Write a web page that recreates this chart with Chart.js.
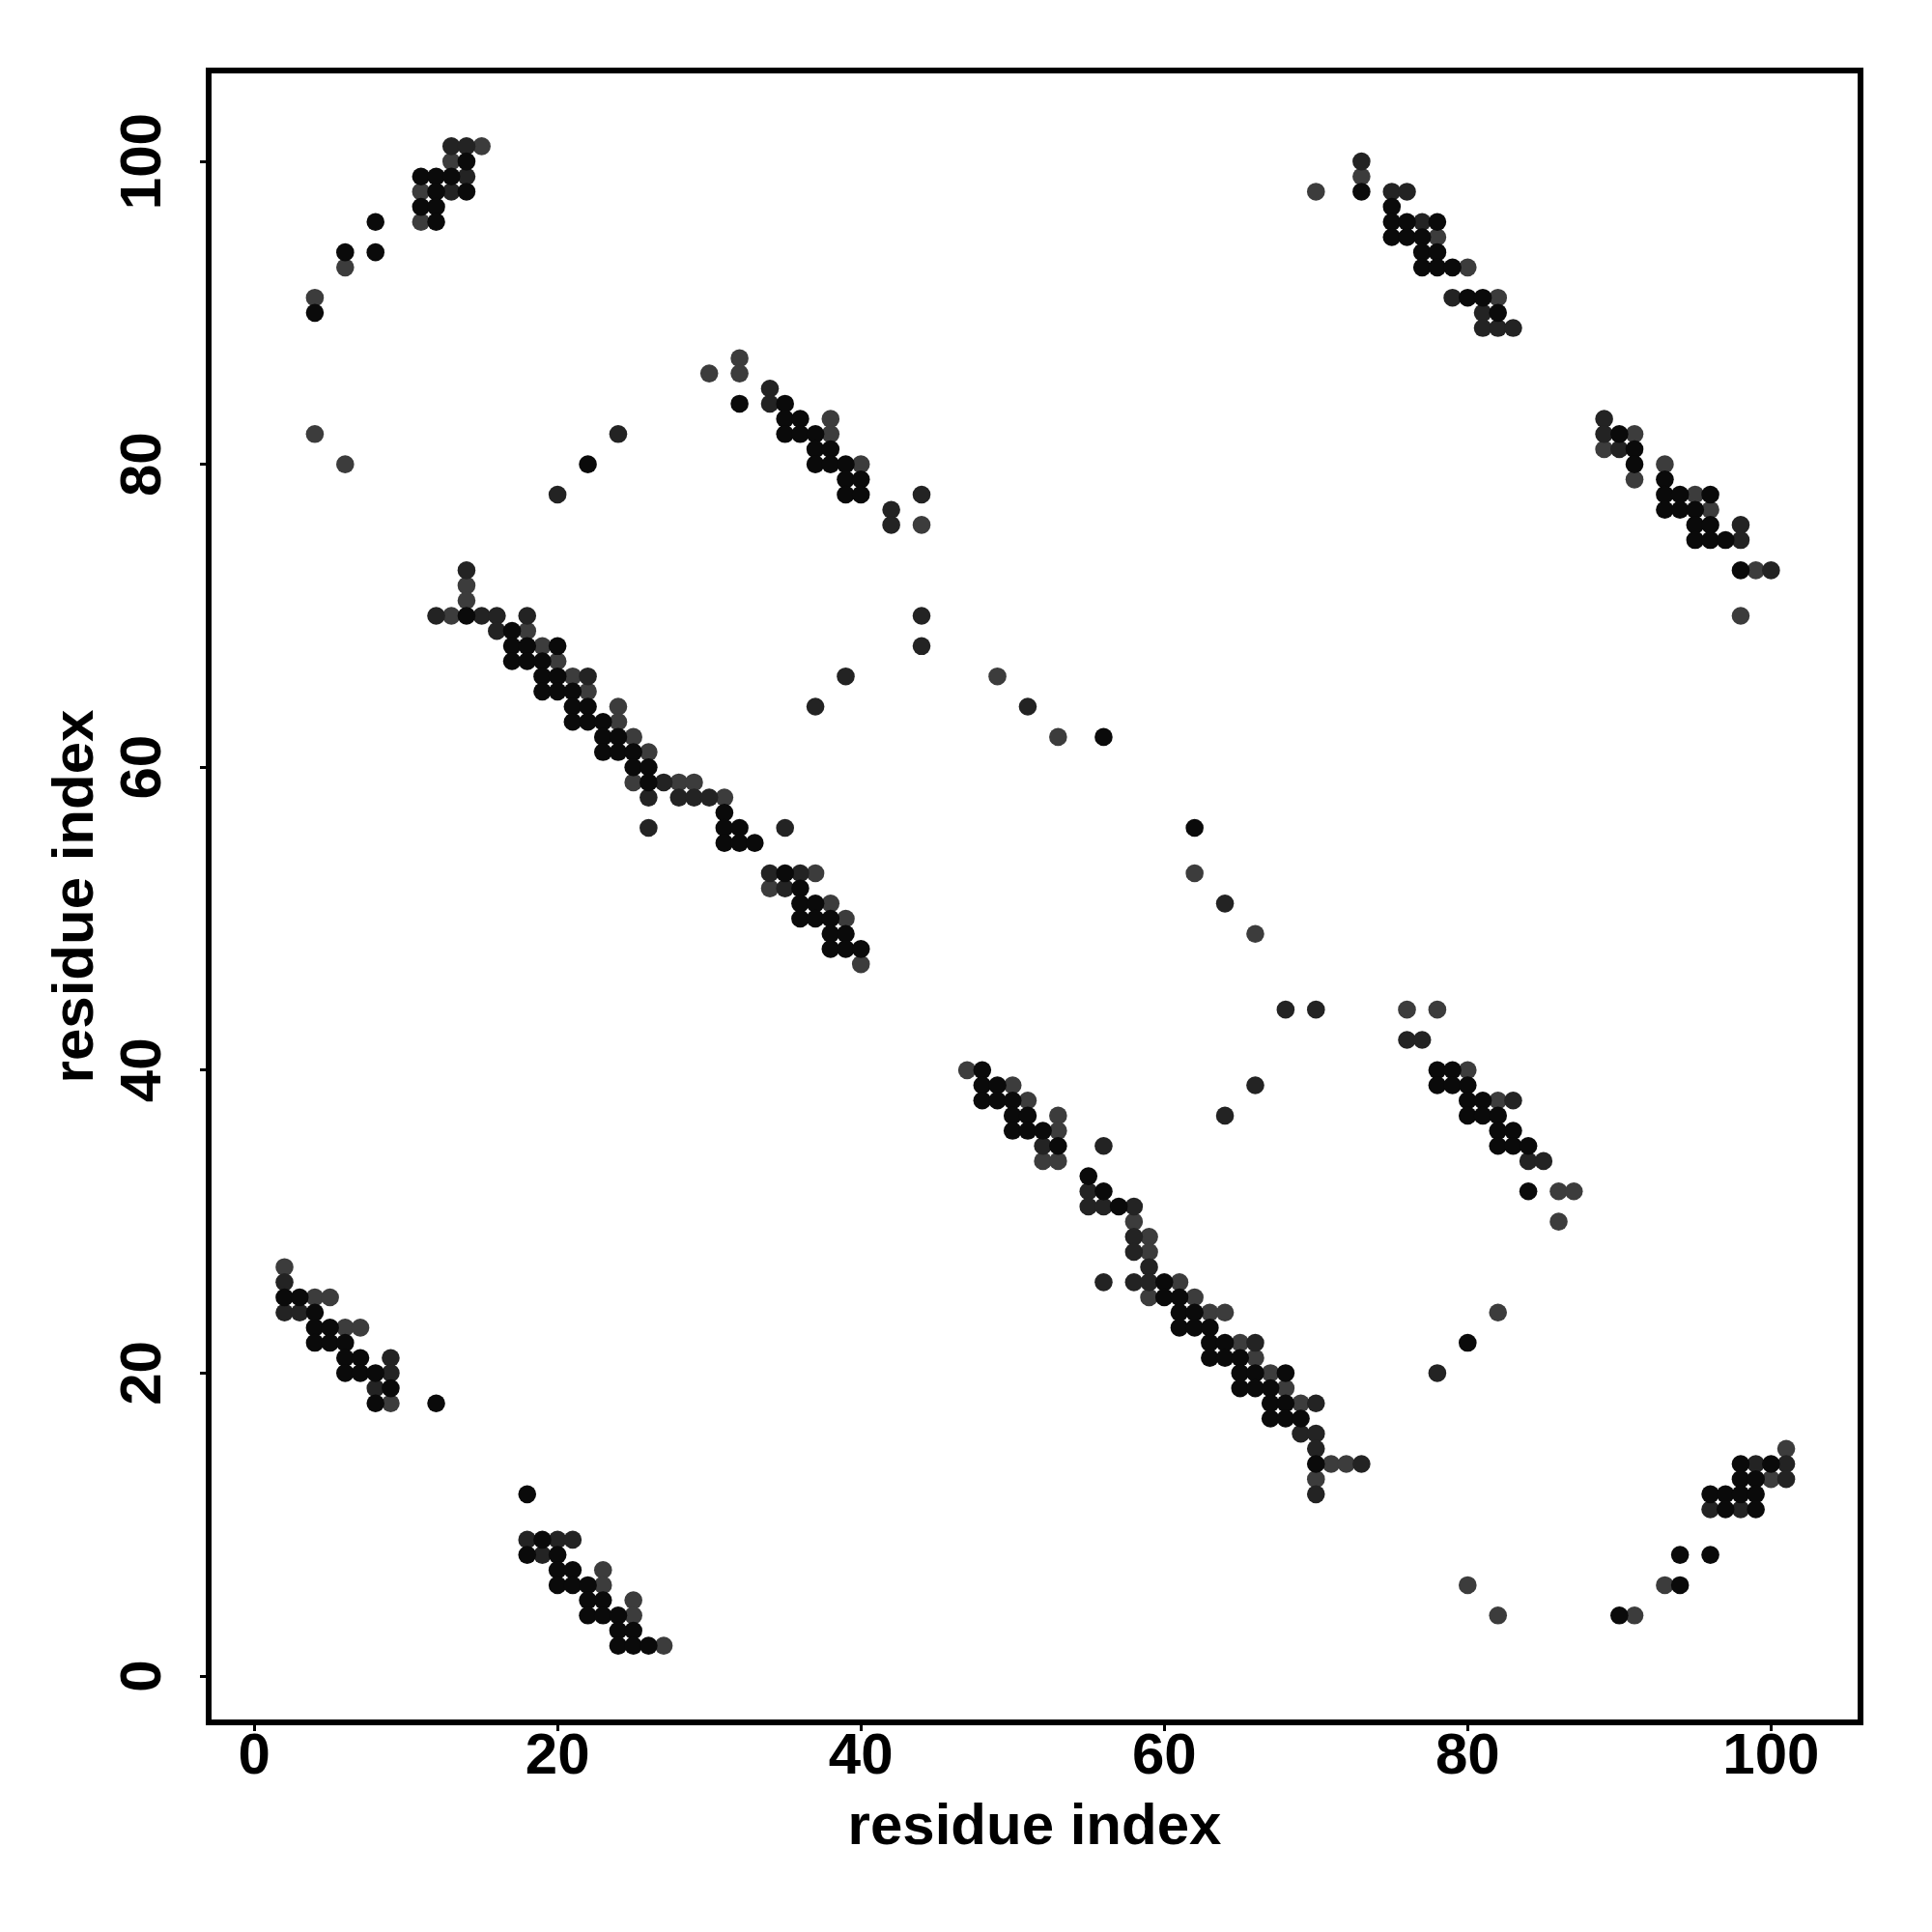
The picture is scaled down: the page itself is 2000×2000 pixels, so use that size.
<!DOCTYPE html>
<html>
<head>
<meta charset="utf-8">
<title>Residue contact map</title>
<script src="https://cdn.jsdelivr.net/npm/chart.js@4.4.1/dist/chart.umd.min.js"></script>
<style>
  html, body { margin: 0; padding: 0; background: #fff; }
  canvas { display: block; }
</style>
</head>
<body>
<canvas id="contact-map" width="2000" height="2000"></canvas>
<script>
// tick positions on both axes
const tickValues = [0, 20, 40, 60, 80, 100];

// contacts as [residue i, residue j], split by how dark the dot is
const strongContacts = [
  [14,100],[11,99],[12,99],[13,99],[12,98],[14,98],[11,97],[12,97],[12,96],[8,96],[6,94],[8,94],[4,90],[32,84],[22,80],[14,70],
  [17,69],[17,68],[18,68],[20,68],[17,67],[18,67],[19,67],[19,66],[20,66],[19,65],[20,65],[21,65],[21,64],[22,64],
  [21,63],[22,63],[23,63],[23,62],[24,62],[23,61],[24,61],[25,61],[25,60],[26,60],[26,59],[31,57],[31,56],[32,56],
  [31,55],[32,55],[33,55],
  [2,25],[3,25],[4,24],[4,23],[5,23],[4,22],[5,22],[6,22],[6,21],[7,21],[6,20],[7,20],[8,20],[9,19],[8,18],[12,18],
  [18,12],[19,9],[18,8],[20,8],[20,7],[21,7],[20,6],[21,6],[22,6],[22,5],[23,5],[22,4],[23,4],[24,4],[24,3],[25,3],
  [24,2],[25,2],[26,2],
  [35,84],[35,83],[36,83],[35,82],[36,82],[37,82],[37,81],[38,81],[37,80],[38,80],[39,80],[39,79],[40,79],[39,78],[40,78],
  [56,62],[62,56],[35,53],[36,52],[36,51],[37,51],[36,50],[37,50],[38,50],[38,49],[39,49],[38,48],[39,48],[40,48],
  [48,40],[48,39],[49,39],[48,38],[49,38],[50,38],[50,37],[51,37],[50,36],[51,36],[52,36],[53,35],
  [55,33],[56,32],[57,31],[60,26],[60,25],[61,25],[61,24],[62,24],[61,23],[62,23],[63,23],[63,22],[64,22],[63,21],
  [64,21],[65,21],[65,20],[66,20],[68,20],[65,19],[66,19],[67,19],[67,18],[68,18],[67,17],[68,17],[69,17],[70,14],
  [84,32],[80,22],[98,14],[100,14],[98,13],[99,13],[96,12],[97,12],[98,12],[99,12],[97,11],[99,11],[94,8],[96,8],
  [94,6],[90,4],
  [73,98],[75,97],[75,96],[76,96],[78,96],[75,95],[76,95],[77,95],[77,94],[78,94],[77,93],[78,93],[79,93],[80,91],
  [81,91],[82,90],[90,82],[91,81],[91,80],[93,79],[93,78],[94,78],[96,78],[93,77],[94,77],[95,77],[95,76],[96,76],
  [95,75],[96,75],[97,75],[98,73],
  [78,40],[79,40],[78,39],[79,39],[80,39],[80,38],[81,38],[80,37],[81,37],[82,37],[82,36],[83,36],[82,35],[83,35],[84,35]
];

const mediumContacts = [
  [13,101],[14,101],[14,99],[13,98],[24,82],[20,78],[14,73],[12,70],[15,70],[16,70],[18,70],
  [16,69],[22,66],[27,59],[26,58],[28,58],[29,58],[30,58],[26,56],
  [2,26],[2,24],[3,24],[9,21],[9,20],[8,19],[18,9],[20,9],[21,9],[19,8],
  [34,85],[34,84],[44,78],[42,77],[42,76],[44,70],
  [44,68],[39,66],[37,64],[51,64],[35,56],[34,53],[36,53],[35,52],[64,51],[68,44],[70,44],[66,39],[64,37],[52,35],[56,35],
  [55,32],[55,31],[56,31],[58,31],[58,29],[58,28],[59,27],[56,26],[58,26],[59,26],[66,22],[69,16],[70,18],[70,16],
  [70,15],[70,12],
  [78,20],[73,14],[99,14],[101,14],[101,13],[96,11],[98,11],
  [73,100],[75,98],[76,98],[77,96],[79,91],[81,90],[81,89],[82,89],[83,89],[89,83],[89,82],[90,81],[98,76],[98,75],[100,73],
  [76,42],[77,42],[83,38],[84,34],[85,34]
];

const weakContacts = [
  [15,101],[13,100],[11,98],[11,96],[6,93],[4,91],[32,87],[30,86],[32,86],[4,82],[6,80],[14,72],[14,71],[13,70],
  [18,69],[19,68],[20,67],[21,66],[22,65],[24,64],[24,63],[25,62],[26,61],[25,59],[28,59],[29,59],[31,58],
  [2,27],[4,25],[5,25],[6,23],[7,23],[9,18],[23,7],[23,6],[25,5],[25,4],[27,2],
  [70,98],[38,83],[38,82],[40,80],[44,76],
  [49,66],[53,62],[37,53],[62,53],[34,52],[38,51],[39,50],[66,49],[40,47],[47,40],[50,39],[51,38],[53,37],[53,36],
  [52,34],[53,34],
  [58,30],[59,29],[59,28],[61,26],[59,25],[62,25],[63,24],[64,24],[65,22],[66,21],[67,20],[68,19],[69,18],
  [86,32],[87,32],[86,30],[82,24],[70,13],[71,14],[72,14],[101,15],[100,13],[93,6],[80,6],[82,4],[91,4],
  [73,99],[78,95],[80,93],[82,91],[91,82],[89,81],[93,80],[91,79],[95,78],[96,77],[99,73],[98,70],
  [76,44],[78,44],[80,40],[82,38]
];

const FONT = "'Liberation Sans', Arial, Helvetica, sans-serif";

// black frame round the plotting region
const frameBox = {
  id: 'frameBox',
  afterDatasetsDraw(chart) {
    const { ctx, chartArea: a } = chart;
    ctx.save();
    ctx.strokeStyle = '#000';
    ctx.lineWidth = 6;
    ctx.strokeRect(a.left, a.top, a.right - a.left, a.bottom - a.top);
    ctx.restore();
  }
};

function toPoints(list) {
  return list.map(([x, y]) => ({ x, y }));
}

function setTicks(scale) {
  scale.ticks = tickValues.map(v => ({ value: v }));
}

const ctx = document.getElementById('contact-map');
new Chart(ctx, {
  type: 'scatter',
  data: {
    datasets: [
      { label: 'strong', data: toPoints(strongContacts), backgroundColor: '#0a0a0a' },
      { label: 'medium', data: toPoints(mediumContacts), backgroundColor: '#232323' },
      { label: 'weak', data: toPoints(weakContacts), backgroundColor: '#3c3c3c' }
    ]
  },
  options: {
    responsive: false,
    animation: false,
    layout: { padding: { top: 73, right: 74, left: 0, bottom: 0 } },
    elements: {
      point: { radius: 9.3, borderWidth: 0, hoverRadius: 9.3 }
    },
    plugins: {
      legend: { display: false },
      tooltip: { enabled: false }
    },
    scales: {
      x: {
        type: 'linear',
        min: -3,
        max: 105.9,
        afterBuildTicks: setTicks,
        afterFit: s => { s.height = 217; },
        border: { display: false },
        grid: { drawOnChartArea: false, drawTicks: true, tickLength: 9, color: '#000', lineWidth: 3 },
        ticks: {
          color: '#000',
          padding: 0,
          minRotation: 0,
          maxRotation: 0,
          autoSkip: false,
          font: { family: FONT, size: 60, weight: 'bold', lineHeight: 0.9 }
        },
        title: {
          display: true,
          text: 'residue index',
          color: '#000',
          font: { family: FONT, size: 60, weight: 'bold', lineHeight: 1 },
          padding: { top: 0, bottom: 78 }
        }
      },
      y: {
        type: 'linear',
        min: -3.06,
        max: 106,
        afterBuildTicks: setTicks,
        afterFit: s => { s.width = 216; },
        border: { display: false },
        grid: { drawOnChartArea: false, drawTicks: true, tickLength: 9, color: '#000', lineWidth: 3 },
        ticks: {
          color: '#000',
          padding: 7,
          minRotation: 90,
          maxRotation: 90,
          crossAlign: 'center',
          autoSkip: false,
          font: { family: FONT, size: 60, weight: 'bold', lineHeight: 1 }
        },
        title: {
          display: true,
          text: 'residue index',
          color: '#000',
          font: { family: FONT, size: 60, weight: 'bold', lineHeight: 1 },
          padding: { top: 49, bottom: 0 }
        }
      }
    }
  },
  plugins: [frameBox]
});
</script>
</body>
</html>
